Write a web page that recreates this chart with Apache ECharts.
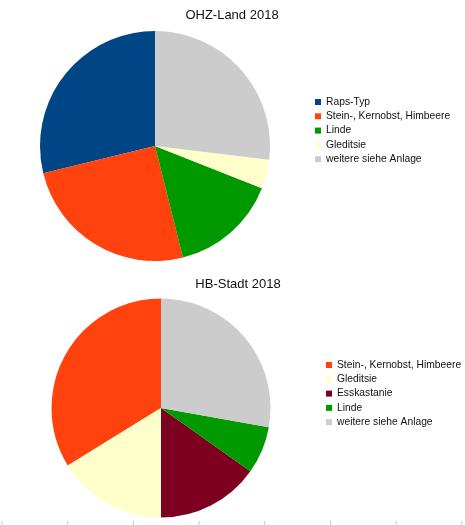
<!DOCTYPE html>
<html>
<head>
<meta charset="utf-8">
<script src="https://cdn.jsdelivr.net/npm/echarts@6/dist/echarts.min.js"></script>
<style>
    html, body { margin: 0; padding: 0; background: #fff; }
    #chart { width: 465px; height: 525px; }
</style>
</head>
<body>
<div id="chart"></div>
<script>
    var ohzNames = ['Raps-Typ', 'Stein-, Kernobst, Himbeere', 'Linde', 'Gleditsie', 'weitere siehe Anlage'];
    var ohzValues = [28.8, 25.1, 15.1, 4.1, 26.9];

    var hbNames = ['Stein-, Kernobst, Himbeere', 'Gleditsie', 'Esskastanie', 'Linde', 'weitere siehe Anlage'];
    var hbValues = [33.8, 16.2, 15.2, 7.0, 27.8];

    var colors = {
        'Raps-Typ': '#004586',
        'Stein-, Kernobst, Himbeere': '#ff420e',
        'Linde': '#009900',
        'Gleditsie': '#ffffcc',
        'Esskastanie': '#7e0021',
        'weitere siehe Anlage': '#cccccc'
    };

    var font = '"Liberation Sans", Arial, sans-serif';

    function buildData(names, values) {
        var data = [];
        names.forEach(function (name, i) {
            data.push({
                name: name,
                value: values[i],
                itemStyle: { color: colors[name] }
            });
        });
        return data;
    }

    function pieSeries(name, names, values, center, radius) {
        return {
            name: name,
            type: 'pie',
            center: center,
            radius: radius,
            startAngle: 90,
            clockwise: false,
            animation: false,
            silent: true,
            label: { show: false },
            labelLine: { show: false },
            itemStyle: { borderWidth: 0 },
            emphasis: { scale: false },
            data: buildData(names, values)
        };
    }

    function legend(names, left, top) {
        return {
            orient: 'vertical',
            left: left,
            top: top,
            padding: 0,
            icon: 'rect',
            itemWidth: 6,
            itemHeight: 6,
            itemGap: 2.3,
            selectedMode: false,
            textStyle: { fontFamily: font, fontSize: 10.3, lineHeight: 12, color: '#111' },
            data: names
        };
    }

    // feine Rasterstriche am unteren Rand (Tabellenraster)
    var ticks = [];
    for (var k = 0; k < 8; k++) {
        var x = 2 + k * 65.7;
        ticks.push({
            type: 'line',
            shape: { x1: x, y1: 521, x2: x, y2: 525 },
            style: { stroke: '#c8c8c8', lineWidth: 1 }
        });
    }

    var chart = echarts.init(document.getElementById('chart'), null, { renderer: 'canvas' });
    var option = {
        backgroundColor: '#fff',
        title: [
            {
                text: 'OHZ-Land 2018',
                left: 227, top: 4, textAlign: 'center',
                textStyle: { fontFamily: font, fontSize: 13, fontWeight: 'normal', color: '#111' }
            },
            {
                text: 'HB-Stadt 2018',
                left: 233, top: 273, textAlign: 'center',
                textStyle: { fontFamily: font, fontSize: 13, fontWeight: 'normal', color: '#111' }
            }
        ],
        legend: [
            legend(ohzNames, 315, 96),
            legend(hbNames, 326, 359)
        ],
        series: [
            pieSeries('OHZ-Land 2018', ohzNames, ohzValues, [155, 146], 115),
            pieSeries('HB-Stadt 2018', hbNames, hbValues, [161, 408], 109.5)
        ],
        graphic: ticks
    };
    chart.setOption(option);
</script>
</body>
</html>
